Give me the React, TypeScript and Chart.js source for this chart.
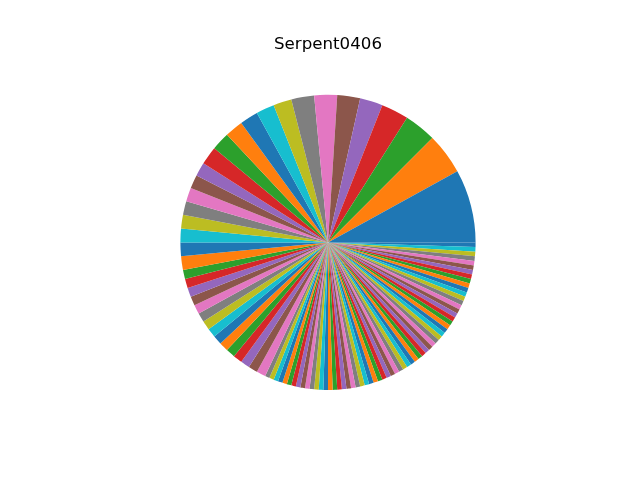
import React, { useEffect, useRef } from "react";
import { Chart, registerables } from "chart.js";

Chart.register(...registerables);

const TITLE = "Serpent0406";

// slice counts, in drawing order (counter-clockwise from 3 o'clock)
const counts: number[] = [
  16, 9, 7, 6, 5, 5, 5, 5,
  4, 4, 4, 4, 4, 4,
  3, 3, 3, 3, 3, 3, 3, 3,
  2, 2, 2, 2, 2, 2, 2, 2, 2, 2, 2, 2, 2, 2, 2,
  1, 1, 1, 1, 1, 1, 1, 1,
  1, 1, 1, 1, 1, 1, 1, 1,
  1, 1, 1, 1, 1, 1, 1, 1,
  1, 1, 1, 1, 1, 1, 1, 1,
  1, 1, 1, 1, 1, 1, 1, 1,
  1, 1, 1, 1, 1, 1, 1, 1,
  1, 1, 1, 1, 1, 1, 1, 1,
  1, 1, 1, 1, 1, 1, 1, 1,
];

const categories: string[] = counts.map((_, i) => `${i + 1}`);

const palette: string[] = [
  "#1f77b4", "#ff7f0e", "#2ca02c", "#d62728", "#9467bd",
  "#8c564b", "#e377c2", "#7f7f7f", "#bcbd22", "#17becf",
];

export default function App() {
  const ref = useRef<HTMLCanvasElement | null>(null);

  useEffect(() => {
    if (!ref.current) return;
    const colors = counts.map((_, i) => palette[i % palette.length]);
    // Chart.js draws clockwise; reverse order to emulate counter-clockwise
    const data = [...counts].reverse();
    const labels = [...categories].reverse();
    const bg = [...colors].reverse();
    const chart = new Chart(ref.current, {
      type: "pie",
      data: {
        labels,
        datasets: [
          {
            data,
            backgroundColor: bg,
            borderWidth: 0,
            hoverOffset: 0,
            offset: 0,
          },
        ],
      },
      options: {
        responsive: false,
        animation: false,
        rotation: 90,
        layout: { padding: { left: 180, right: 164, top: 0, bottom: 90 } },
        plugins: {
          legend: { display: false },
          tooltip: { enabled: false },
          title: {
            display: true,
            text: TITLE,
            color: "#000000",
            font: { family: "DejaVu Sans", size: 16.67, weight: "normal", lineHeight: 1.2 },
            padding: { top: 34.4, bottom: 40.4 },
          },
        },
      },
    });
    return () => chart.destroy();
  }, []);

  return (
    <div style={{ position: "absolute", left: 0, top: 0, width: 640, height: 480, background: "#fff" }}>
      <canvas ref={ref} width={640} height={480} />
    </div>
  );
}
